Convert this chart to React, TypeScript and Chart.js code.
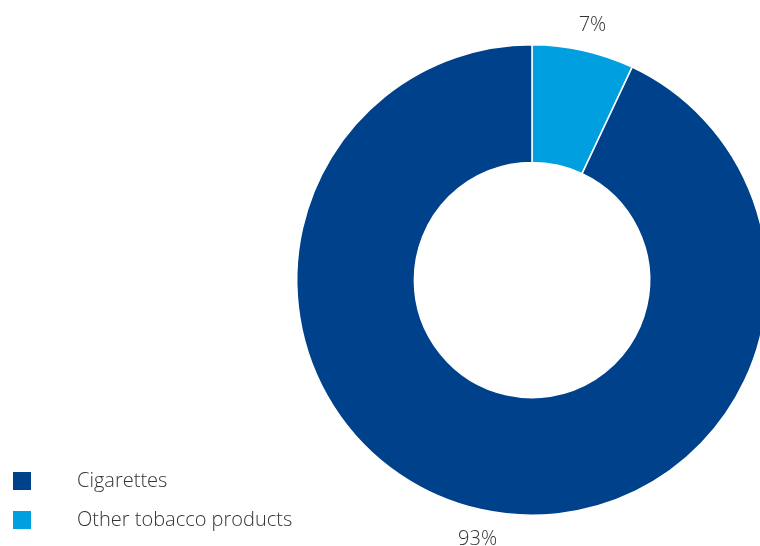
import React, { useEffect, useRef } from "react";
import { Chart, registerables } from "chart.js";

Chart.register(...registerables);

const categories = ["Other tobacco products", "Cigarettes"];
const values = [7, 93];
const colors = ["#009FDF", "#00418B"];
const legendOrder = [1, 0];

const FONT = "300 20px 'Open Sans', 'Lato', sans-serif";
const TEXT = "#333333";

const labelPlugin = {
  id: "outerLabels",
  afterDraw(chart: any) {
    const ctx = chart.ctx;
    const meta = chart.getDatasetMeta(0);
    const total = values.reduce((a, b) => a + b, 0);
    ctx.save();
    ctx.font = FONT;
    ctx.fillStyle = TEXT;
    ctx.textAlign = "center";
    ctx.textBaseline = "middle";
    meta.data.forEach((arc: any, i: number) => {
      const { x, y, startAngle, endAngle, outerRadius } = arc.getProps(
        ["x", "y", "startAngle", "endAngle", "outerRadius"],
        true
      );
      const mid = (startAngle + endAngle) / 2;
      const r = outerRadius + 28;
      const pct = Math.round((values[i] / total) * 100);
      ctx.fillText(pct + "%", x + Math.cos(mid) * r + 3, y + Math.sin(mid) * r + 2);
    });
    // legend
    ctx.textAlign = "left";
    legendOrder.forEach((idx, k) => {
      const cy = 481 + k * 39;
      ctx.fillStyle = colors[idx];
      ctx.fillRect(13, cy - 9, 18, 18);
      ctx.fillStyle = TEXT;
      ctx.fillText(categories[idx], 77, cy);
    });
    ctx.restore();
  },
};

export default function App() {
  const ref = useRef<HTMLCanvasElement | null>(null);
  useEffect(() => {
    if (!ref.current) return;
    const chart = new Chart(ref.current, {
      type: "doughnut",
      data: {
        labels: categories,
        datasets: [
          {
            data: values,
            backgroundColor: colors,
            borderColor: "#ffffff",
            borderWidth: 1.5,
          },
        ],
      },
      options: {
        responsive: false,
        animation: false,
        cutout: "50%",
        layout: { padding: { left: 296, right: 32, top: 44, bottom: 30 } },
        plugins: {
          legend: { display: false },
          tooltip: { enabled: false },
        },
      },
      plugins: [labelPlugin],
    });
    return () => chart.destroy();
  }, []);
  return (
    <div
      style={{
        position: "absolute",
        left: 0,
        top: 0,
        width: 760,
        height: 546,
        overflow: "hidden",
        background: "#fff",
      }}
    >
      <canvas ref={ref} width={800} height={546} style={{ display: "block" }} />
    </div>
  );
}
